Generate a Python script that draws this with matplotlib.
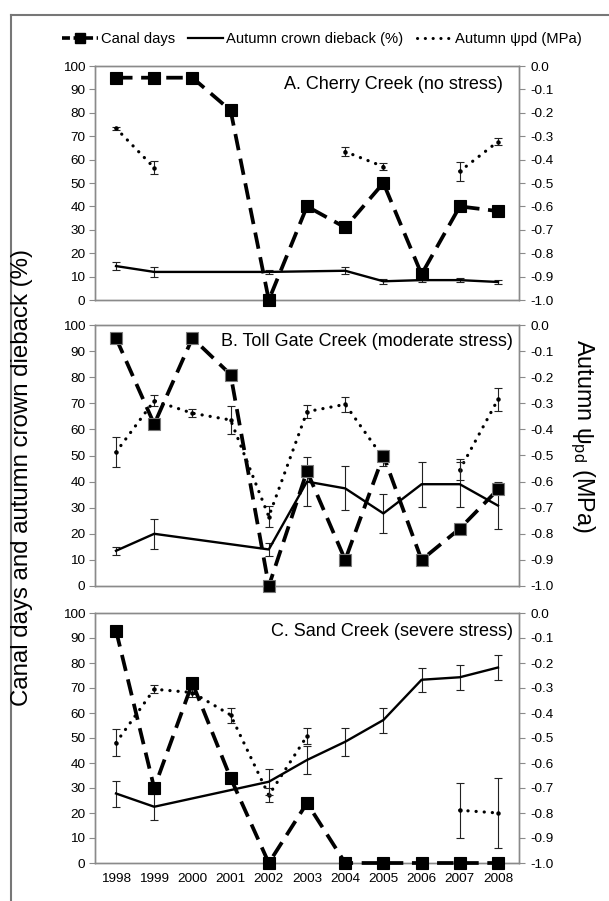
import numpy as np
import matplotlib
matplotlib.use("Agg")
import matplotlib.pyplot as plt
from matplotlib.lines import Line2D

plt.rcParams['font.family'] = ['Liberation Sans', 'DejaVu Sans']

years = np.arange(1998, 2009)
nan = np.nan

# Canal days (left axis, %)
canal_A = [95, 95, 95, 81, 0, 40, 31, 50, 11, 40, 38]
canal_B = [95, 62, 95, 81, 0, 44, 10, 50, 10, 22, 37]
canal_C = [93, 30, 72, 34, 0, 24, 0, 0, 0, 0, 0]

# Autumn crown dieback (%) with error
die_years_A = [1998, 1999, 2002, 2004, 2005, 2006, 2007, 2008]
die_A = [14.5, 12, 12, 12.5, 8, 8.5, 8.5, 7.7]
die_err_A = [1.6, 2.0, 0.8, 1.4, 1.0, 1.0, 1.0, 1.0]

die_years_B = [1998, 1999, 2002, 2003, 2004, 2005, 2006, 2007, 2008]
die_B = [13.5, 20, 14, 40, 37.4, 27.8, 39, 39, 30.8]
die_err_B = [1.6, 5.8, 2.6, 9.5, 8.4, 7.5, 8.6, 8.6, 9.0]

die_years_C = [1998, 1999, 2002, 2003, 2004, 2005, 2006, 2007, 2008]
die_C = [27.8, 22.5, 32.5, 41.2, 48.5, 57.2, 73.3, 74.3, 78.2]
die_err_C = [5.2, 5.2, 5.2, 5.7, 5.7, 5.0, 4.8, 5.0, 4.9]

# Autumn psi_pd (MPa, right axis)
psi_A = [-0.266, -0.435, nan, nan, nan, nan, -0.366, -0.43, nan, -0.45, -0.323]
psi_err_A = [0.006, 0.028, nan, nan, nan, nan, 0.02, 0.014, nan, 0.04, 0.015]
psi_B = [-0.487, -0.29, -0.338, -0.364, -0.734, -0.332, -0.304, -0.51, nan, -0.555, -0.285]
psi_err_B = [0.057, 0.02, 0.016, 0.053, 0.04, 0.026, 0.03, 0.032, nan, 0.04, 0.045]
psi_C = [-0.519, -0.305, -0.318, -0.408, -0.729, -0.492, nan, nan, nan, -0.789, -0.80]
psi_err_C = [0.054, 0.016, 0.018, 0.03, 0.028, 0.031, nan, nan, nan, 0.11, 0.14]

titles = ["A. Cherry Creek (no stress)",
          "B. Toll Gate Creek (moderate stress)",
          "C. Sand Creek (severe stress)"]

left_ticks = list(range(0, 101, 10))
right_ticks = [round(-0.1 * i, 1) for i in range(0, 11)]
right_labels = ["0.0"] + ["-%.1f" % (0.1 * i) for i in range(1, 11)]

W, H = 609, 901
fig = plt.figure(figsize=(W / 100, H / 100), dpi=100)

def frac_rect(l, r, t, b):
    return [l / W, 1 - b / H, (r - l) / W, (b - t) / H]

rects = [frac_rect(95, 519, 66, 300), frac_rect(95, 519, 325, 586), frac_rect(95, 519, 613, 863)]
title_pos = [(0.962, 0.919), (0.986, 0.935), (0.986, 0.928)]

spine_col = '#8a8a8a'
dash = (0, (4.4, 2.3))
dot = (0, (0.05, 2.5))

data = [
    (canal_A, die_years_A, die_A, die_err_A, psi_A, psi_err_A),
    (canal_B, die_years_B, die_B, die_err_B, psi_B, psi_err_B),
    (canal_C, die_years_C, die_C, die_err_C, psi_C, psi_err_C),
]

for i, (rect, (canal, dy, die, derr, psi, perr)) in enumerate(zip(rects, data)):
    ax = fig.add_axes(rect)
    ax2 = ax.twinx()
    ax.set_zorder(ax2.get_zorder() + 1)
    ax.patch.set_visible(False)

    # psi on right axis
    ax2.errorbar(years, psi, yerr=perr, fmt='none', ecolor='#222222', elinewidth=0.8,
                 capsize=2.6, capthick=0.8, zorder=2)
    ax2.plot(years, psi, linestyle=dot, color='black', lw=2.3, dash_capstyle='round',
             marker='o', ms=2.2, zorder=3)
    ax2.set_ylim(-1.0, 0.0)
    ax2.set_yticks(right_ticks)
    ax2.set_yticklabels(right_labels)

    # dieback
    ax.errorbar(dy, die, yerr=derr, fmt='none', ecolor='#222222', elinewidth=0.8,
                capsize=2.6, capthick=0.8, zorder=2)
    ax.plot(dy, die, '-', color='black', lw=1.7, zorder=3)

    # canal days
    mec = '#777777' if i == 1 else 'black'
    ax.plot(years, canal, linestyle=dash, color='black', lw=2.7, marker='s', ms=9,
            mfc='black', mec=mec, mew=0.8, zorder=4, clip_on=False)

    ax.set_ylim(0, 100)
    ax.set_xlim(1997.45, 2008.55)
    ax.set_yticks(left_ticks)
    ax.set_xticks(years)
    if i == 2:
        ax.set_xticklabels([str(y) for y in years])
    else:
        ax.set_xticklabels([])

    for a in (ax, ax2):
        for s in a.spines.values():
            s.set_color(spine_col)
            s.set_linewidth(1.0)
        a.tick_params(labelsize=9.7, colors='black')
    ax.tick_params(axis='y', direction='out', length=4, color=spine_col, pad=3)
    ax.tick_params(axis='x', length=0, pad=7)
    ax2.tick_params(axis='y', direction='out', length=4, color=spine_col, pad=4)

    ax.text(title_pos[i][0], title_pos[i][1], titles[i], transform=ax.transAxes,
            ha='right', va='center', fontsize=13)

fig.text(22 / W, 1 - 478 / H, "Canal days and autumn crown dieback (%)", rotation=90,
         ha='center', va='center', fontsize=17.3)
fig.text(582 / W, 1 - 436 / H, "Autumn ψ$_{\\mathregular{pd}}$ (MPa)", rotation=-90,
         ha='center', va='center', fontsize=16.8)

handles = [
    Line2D([], [], linestyle=(0, (2.2, 1.0)), color='black', lw=2.6, marker='s', ms=6.5),
    Line2D([], [], linestyle='-', color='black', lw=1.6),
    Line2D([], [], linestyle=dot, color='black', lw=2.2, dash_capstyle='round'),
]
labels = ["Canal days", "Autumn crown dieback (%)", "Autumn ψpd (MPa)"]
fig.legend(handles, labels, loc='center', bbox_to_anchor=(322 / W, 1 - 39 / H), ncol=3,
           frameon=False, fontsize=10.6, handlelength=2.4, handletextpad=0.2,
           columnspacing=0.9)

# outer frame (left and top edges)
fig.add_artist(Line2D([11 / W, 11 / W], [0, 1 - 15 / H], transform=fig.transFigure,
                      color='#777777', lw=1.5))
fig.add_artist(Line2D([11 / W, 1], [1 - 15 / H, 1 - 15 / H], transform=fig.transFigure,
                      color='#777777', lw=1.5))

fig.savefig("out.png", dpi=100)
